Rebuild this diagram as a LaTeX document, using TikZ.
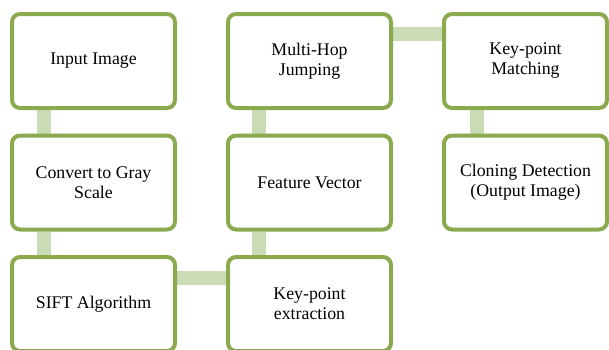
\documentclass[tikz,border=0pt]{standalone}
\usepackage{fontspec}
\setmainfont{Liberation Serif}
\usepackage{xcolor}
\usepackage{tikz}
\usetikzlibrary{positioning, backgrounds}

\definecolor{boxgreen}{RGB}{139,170,80}
\definecolor{linkgreen}{RGB}{202,219,182}

\begin{document}
\begin{tikzpicture}[
    x=1pt, y=1pt,
    stage/.style={rectangle, draw=boxgreen, line width=4pt, rounded corners=8pt, fill=white, minimum width=163pt, minimum height=94pt, align=center, font=\fontsize{17.8}{20}\selectfont},
    link/.style={draw=linkgreen, line width=14pt}
]
    \useasboundingbox (0,0) rectangle (609,-349);

    % Input Image
    \node[stage] (input) at (93.5,-61) {Input Image};

    % Gray Scale
    \node[stage] (gray) at (93.5,-182.5) {Convert to Gray\\Scale};

    % SIFT
    \node[stage] (sift) at (93.5,-304) {SIFT Algorithm};

    % Key-point extraction
    \node[stage] (kpext) at (309.5,-304) {Key-point\\extraction};

    % Feature Vector
    \node[stage] (feature) at (309.5,-182.5) {Feature Vector};

    % Multi-Hop Jumping
    \node[stage] (hop) at (309.5,-61) {Multi-Hop\\Jumping};

    % Key-point Matching
    \node[stage] (match) at (525.5,-61) {Key-point\\Matching};

    % Cloning Detection
    \node[stage] (clone) at (525.5,-182.5) {Cloning Detection\\(Output Image)};

    % Links
    \begin{scope}[on background layer]
    \draw[link] ([xshift=34pt]input.south west) -- ([xshift=34pt]gray.north west);
    \draw[link] ([xshift=34pt]gray.south west) -- ([xshift=34pt]sift.north west);
    \draw[link] ([yshift=-23pt]sift.north east) -- ([yshift=-23pt]kpext.north west);
    \draw[link] ([xshift=33pt]kpext.north west) -- ([xshift=33pt]feature.south west);
    \draw[link] ([xshift=33pt]feature.north west) -- ([xshift=33pt]hop.south west);
    \draw[link] ([yshift=-22pt]hop.north east) -- ([yshift=-22pt]match.north west);
    \draw[link] ([xshift=35pt]match.south west) -- ([xshift=35pt]clone.north west);
    \end{scope}
\end{tikzpicture}
\end{document}
